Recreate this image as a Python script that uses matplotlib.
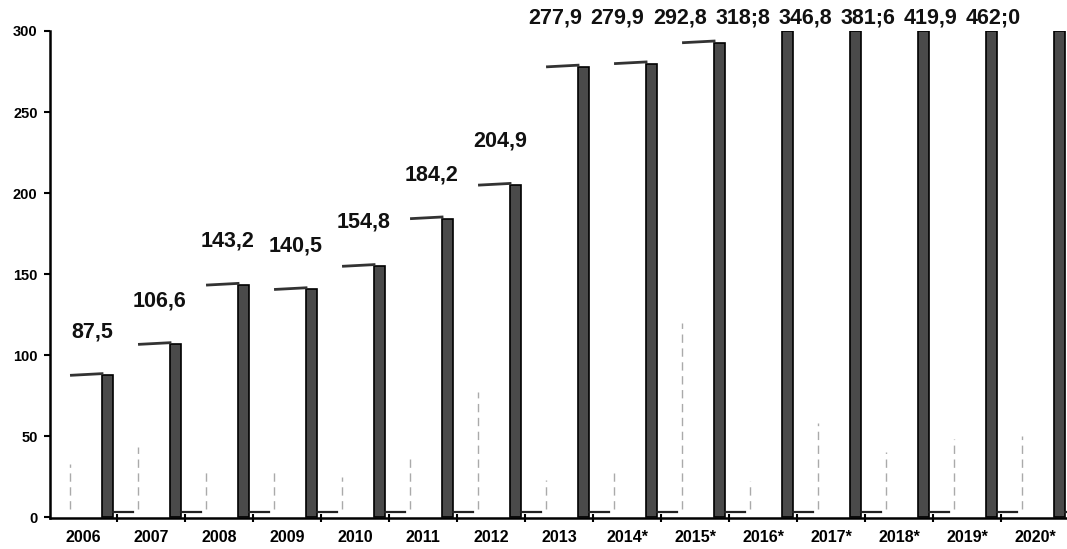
import numpy as np
import matplotlib.pyplot as plt

plt.rcParams['font.family'] = ['Liberation Sans', 'DejaVu Sans']

# Data
years = ['2006', '2007', '2008', '2009', '2010', '2011', '2012', '2013',
         '2014*', '2015*', '2016*', '2017*', '2018*', '2019*', '2020*']
values = [87.5, 106.6, 143.2, 140.5, 154.8, 184.2, 204.9, 277.9,
          279.9, 292.8, 318.8, 346.8, 381.6, 419.9, 462.0]
value_labels = ['87,5', '106,6', '143,2', '140,5', '154,8', '184,2', '204,9', '277,9',
                '279,9', '292,8', '318;8', '346,8', '381;6', '419,9', '462;0']
# faint remains of the front-face edges that survived the scan
edge_tops = [33, 43, 30, 29, 25, 37, 77, 23, 27, 120, 22, 58, 40, 48, 50]

ymax = 300
x = np.arange(len(years))
h = np.minimum(values, ymax)

fig = plt.figure(figsize=(10.67, 5.49), dpi=100)
ax = fig.add_axes([50 / 1067, 1 - 518 / 549, 1017 / 1067, 487 / 549])

# dark side face of each 3d bar
ax.bar(x + 0.36, h, width=0.16, color='#4a4a4a', edgecolor='black', linewidth=1.2, zorder=3)
# top face (thin cap)
for xi, hi, v in zip(x, h, values):
    if v < ymax:
        ax.plot([xi - 0.17, xi + 0.28], [hi, hi + 1], color='#333333', lw=2, zorder=3)
    # floor segment behind the bar
    ax.plot([xi + 0.44, xi + 0.74], [3, 3], color='#222222', lw=1.6, zorder=3)

# faint left edges
ax.vlines(x - 0.19, 5, edge_tops, colors='#aaaaaa', lw=1, linestyles=(0, (6, 4)), zorder=2)

# value labels (the tall ones are squeezed along the top edge)
for i, (v, lab) in enumerate(zip(values, value_labels)):
    if v + 27 < 300:
        lx, ly = i + 0.13, v + 27
    else:
        lx, ly = 6.94 + 0.92 * (i - 7), 308
    ax.text(lx, ly, lab, ha='center', va='center', fontsize=15.5, fontweight='bold',
            color='#111111', clip_on=False)

ax.set_xlim(-0.485, 14.47)
ax.set_ylim(-0.6, ymax)
ax.set_yticks(np.arange(0, 301, 50))
ax.set_xticks(x)
ax.set_xticklabels(years)
ax.set_xticks(x[:-1] + 0.5, minor=True)
ax.tick_params(axis='x', which='major', length=0, pad=9, labelsize=11.5)
ax.tick_params(axis='x', which='minor', length=6, direction='inout', width=1.5)
ax.tick_params(axis='y', length=4, width=1.5, labelsize=10.5, pad=5)
for lab in ax.get_xticklabels() + ax.get_yticklabels():
    lab.set_fontweight('bold')

for s in ['top', 'right']:
    ax.spines[s].set_visible(False)
ax.spines['left'].set_linewidth(1.8)
ax.spines['bottom'].set_linewidth(1.8)

fig.savefig('out.png', dpi=100)
